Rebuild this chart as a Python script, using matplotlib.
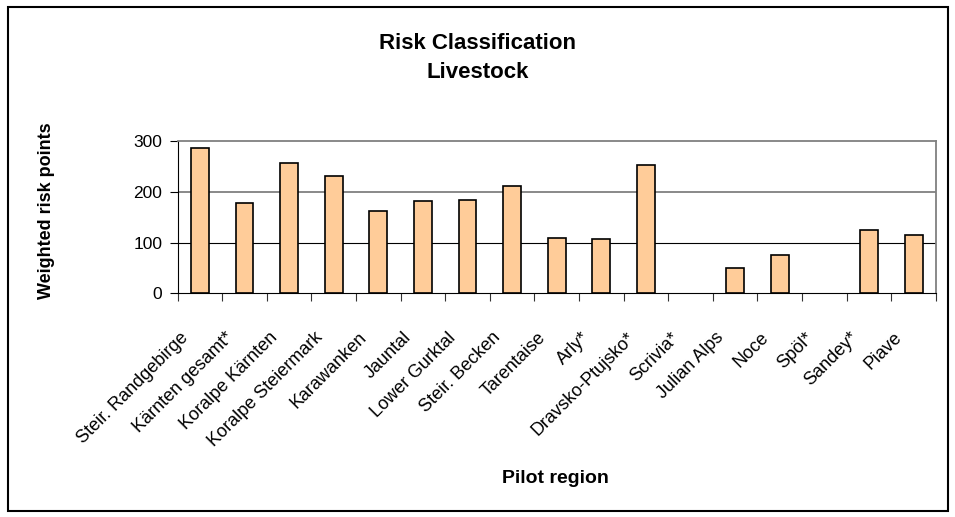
import matplotlib.pyplot as plt
from matplotlib.patches import Rectangle

plt.rcParams['font.family'] = ['Liberation Sans', 'DejaVu Sans']

regions = ["Steir. Randgebirge", "Kärnten gesamt*", "Koralpe Kärnten", "Koralpe Steiermark",
           "Karawanken", "Jauntal", "Lower Gurktal", "Steir. Becken", "Tarentaise", "Arly*",
           "Dravsko-Ptujsko*", "Scrivia*", "Julian Alps", "Noce", "Spöl*", "Sandey*", "Piave"]
risk_points = [287, 178, 257, 232, 163, 181, 184, 212, 109, 106, 253, 0, 50, 75, 0, 125, 115]
y_ticks = [0, 100, 200, 300]

fig = plt.figure(figsize=(9.55, 5.17), dpi=100)
ax = fig.add_axes([0.186, 0.4327, 0.794, 0.2946])

x = list(range(len(regions)))
# empty regions get no outline, like the original
widths = [1.2 if v > 0 else 0 for v in risk_points]
ax.bar(x, risk_points, width=0.4, color='#FFCC99', edgecolor='black', linewidth=widths, zorder=3)

ax.set_xlim(-0.5, len(regions) - 0.5)
ax.set_ylim(0, 300)
ax.set_yticks(y_ticks)
ax.tick_params(axis='y', direction='out', length=6, labelsize=12.5, pad=5)

# category ticks sit between bars
ax.set_xticks([i - 0.5 for i in range(len(regions) + 1)])
ax.set_xticklabels([])
ax.tick_params(axis='x', direction='out', length=6, color='#333333')
for i, name in enumerate(regions):
    ax.annotate(name, xy=(i, 0), xycoords=('data', 'axes fraction'),
                xytext=(-10, -30), textcoords='offset points',
                rotation=45, rotation_mode='anchor', ha='right', va='center', fontsize=13)

# gridlines
ax.axhline(200, color='#808080', linewidth=1.3, zorder=1)
ax.axhline(100, color='black', linewidth=0.8, zorder=1)

for side in ['top', 'right']:
    ax.spines[side].set_color('#808080')
    ax.spines[side].set_linewidth(1.3)
ax.spines['left'].set_color('black')
ax.spines['bottom'].set_color('black')

ax.set_ylabel('Weighted risk points', fontsize=13, fontweight='bold')
ax.yaxis.set_label_coords(-0.162, 0.54)

fig.text(0.5, 0.888, 'Risk Classification\nLivestock', ha='center', va='center',
         fontsize=16, fontweight='bold', linespacing=1.45)
fig.text(0.582, 0.075, 'Pilot region', ha='center', va='center', fontsize=14, fontweight='bold')

# outer chart frame
fig.patches.append(Rectangle((0.008, 0.012), 0.985, 0.974, transform=fig.transFigure,
                             fill=False, edgecolor='black', linewidth=1.5))

fig.savefig('out.png', dpi=100)
